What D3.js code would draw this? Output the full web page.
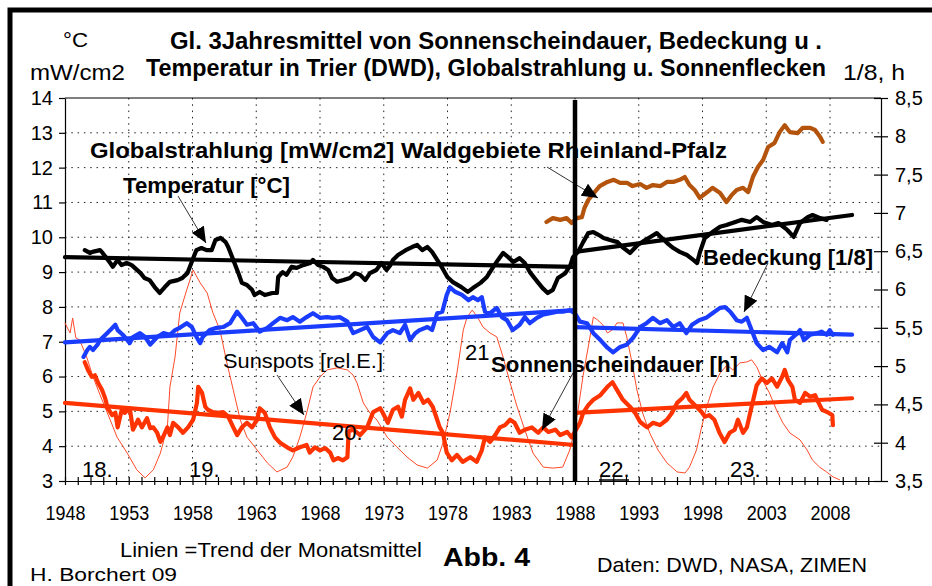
<!DOCTYPE html>
<html>
<head>
<meta charset="utf-8">
<script src="https://cdn.jsdelivr.net/npm/d3@7"></script>
<style>
  body { margin: 0; background: #fff; }
  text { font-family: "Liberation Sans", Arial, sans-serif; }
</style>
</head>
<body>
<svg id="chart" width="932" height="586"></svg>
<script>
// values: [year, value]
var leftTicks = d3.range(3, 15);
var rightTicks = [3.5, 4, 4.5, 5, 5.5, 6, 6.5, 7, 7.5, 8, 8.5];
var yearTicks = d3.range(1948, 2012);
var yearLabels = d3.range(1948, 2009, 5);

// Temperatur [°C], left axis
var temperatur = [[1949.55,9.63],[1949.95,9.55],[1950.15,9.58],[1950.75,9.63],[1950.95,9.55],[1951.55,9.26],[1951.75,9.15],[1952.13,9.35],[1952.43,9.20],[1952.83,9.26],[1953.23,9.20],[1953.93,8.97],[1954.23,8.83],[1954.63,8.77],[1955.03,8.57],[1955.43,8.40],[1955.83,8.57],[1956.23,8.72],[1956.83,8.77],[1957.2,8.83],[1957.6,8.97],[1958.0,9.35],[1958.3,9.63],[1958.7,9.69],[1959.1,9.63],[1959.5,9.63],[1959.8,9.92],[1960.2,9.98],[1960.6,9.86],[1960.8,9.72],[1961.2,9.35],[1961.6,8.97],[1961.87,8.69],[1962.27,8.63],[1962.67,8.49],[1962.87,8.34],[1963.27,8.43],[1963.67,8.34],[1964.27,8.40],[1964.62,8.40],[1964.72,8.86],[1965.07,9.00],[1965.37,8.92],[1965.77,9.15],[1966.17,9.12],[1966.67,9.20],[1967.25,9.26],[1967.45,9.35],[1967.85,9.20],[1968.25,9.15],[1968.65,9.06],[1968.95,8.83],[1969.35,8.72],[1969.85,8.77],[1970.35,8.83],[1970.75,8.97],[1971.15,8.92],[1971.55,8.77],[1971.92,8.97],[1972.42,9.06],[1972.82,9.26],[1973.22,9.06],[1973.52,9.20],[1973.72,9.35],[1974.12,9.49],[1974.72,9.63],[1975.22,9.72],[1975.62,9.78],[1976.02,9.63],[1976.42,9.72],[1976.79,9.58],[1977.19,9.35],[1977.59,9.12],[1977.99,8.86],[1978.39,8.72],[1979.09,8.57],[1979.59,8.43],[1979.99,8.54],[1980.59,8.69],[1981.09,8.86],[1981.59,9.15],[1981.96,9.35],[1982.36,9.55],[1982.76,9.43],[1983.16,9.29],[1983.66,9.40],[1984.06,9.26],[1984.46,9.00],[1985.06,8.72],[1985.46,8.54],[1985.86,8.40],[1986.26,8.49],[1986.66,8.83],[1987.24,8.97],[1987.64,9.20],[1987.84,9.43],[1988.24,9.58],[1988.64,9.86],[1989.04,10.12],[1989.44,10.15],[1989.84,10.07],[1990.24,9.98],[1990.74,9.92],[1991.34,9.86],[1991.71,9.72],[1992.31,9.55],[1992.91,9.78],[1993.51,9.92],[1993.91,10.01],[1994.41,10.12],[1994.81,9.98],[1995.21,9.84],[1995.71,9.69],[1996.21,9.58],[1996.78,9.49],[1997.28,9.35],[1997.58,9.26],[1997.78,9.55],[1998.18,9.98],[1998.78,10.15],[1999.38,10.30],[1999.88,10.35],[2000.58,10.44],[2001.08,10.50],[2001.75,10.44],[2002.25,10.58],[2002.75,10.44],[2003.45,10.35],[2003.95,10.41],[2004.65,10.21],[2005.15,10.01],[2005.65,10.41],[2006.25,10.58],[2006.63,10.64],[2007.23,10.55],[2007.73,10.50]];

// Globalstrahlung [mW/cm2], left axis
var globalstrahlung = [[1985.76,10.44],[1986.26,10.55],[1986.84,10.50],[1987.34,10.55],[1987.74,10.41],[1988.14,10.55],[1988.54,10.58],[1988.74,10.84],[1989.04,11.07],[1989.54,11.30],[1989.94,11.47],[1990.54,11.59],[1991.04,11.65],[1991.54,11.56],[1992.11,11.56],[1992.51,11.47],[1993.11,11.53],[1993.61,11.42],[1994.11,11.50],[1994.71,11.47],[1995.21,11.59],[1995.71,11.59],[1996.21,11.65],[1996.61,11.73],[1996.98,11.50],[1997.38,11.36],[1997.78,11.13],[1998.38,11.30],[1998.78,11.42],[1999.38,11.27],[1999.88,11.01],[2000.28,11.21],[2000.68,11.36],[2001.18,11.42],[2001.58,11.30],[2001.95,11.73],[2002.35,12.02],[2002.75,12.22],[2003.15,12.59],[2003.65,12.71],[2004.05,13.02],[2004.45,13.22],[2004.85,13.02],[2005.45,12.99],[2005.85,13.14],[2006.45,13.14],[2006.83,13.08],[2007.23,12.88],[2007.43,12.74]];

// Bedeckung [1/8], right axis
var bedeckung = [[1949.45,5.12],[1949.75,5.21],[1949.95,5.25],[1950.2,5.21],[1950.55,5.28],[1950.75,5.34],[1951.3,5.43],[1951.55,5.47],[1951.95,5.54],[1952.13,5.47],[1952.53,5.41],[1953.08,5.30],[1953.33,5.38],[1953.88,5.43],[1954.28,5.38],[1954.68,5.28],[1955.23,5.38],[1955.73,5.43],[1956.23,5.41],[1956.63,5.47],[1957.0,5.50],[1957.55,5.56],[1957.95,5.51],[1958.35,5.37],[1958.6,5.30],[1958.8,5.38],[1959.35,5.47],[1959.9,5.50],[1960.4,5.51],[1960.95,5.56],[1961.5,5.71],[1961.87,5.63],[1962.27,5.54],[1962.77,5.56],[1963.27,5.45],[1963.87,5.50],[1964.32,5.56],[1964.87,5.63],[1965.42,5.60],[1965.87,5.64],[1966.42,5.58],[1966.95,5.64],[1967.45,5.69],[1968.0,5.63],[1968.55,5.64],[1969.0,5.63],[1969.55,5.64],[1970.15,5.58],[1970.6,5.43],[1971.15,5.47],[1971.7,5.51],[1972.17,5.38],[1972.72,5.31],[1973.27,5.43],[1973.72,5.47],[1974.27,5.43],[1974.67,5.54],[1975.07,5.34],[1975.47,5.43],[1975.82,5.47],[1976.42,5.51],[1976.79,5.47],[1977.19,5.69],[1977.59,5.71],[1977.94,5.93],[1978.19,6.03],[1978.59,5.97],[1979.14,5.93],[1979.64,5.86],[1979.99,5.90],[1980.39,5.86],[1980.69,5.90],[1980.94,5.71],[1981.34,5.69],[1981.86,5.76],[1982.26,5.64],[1982.66,5.60],[1983.11,5.47],[1983.66,5.54],[1984.06,5.64],[1984.46,5.56],[1985.01,5.63],[1985.46,5.67],[1986.06,5.69],[1986.61,5.71],[1987.04,5.71],[1987.59,5.73],[1987.99,5.69],[1988.39,5.58],[1988.94,5.56],[1989.44,5.43],[1989.99,5.34],[1990.54,5.24],[1990.99,5.18],[1991.54,5.25],[1992.06,5.28],[1992.56,5.37],[1993.11,5.51],[1993.61,5.56],[1994.11,5.63],[1994.66,5.56],[1995.21,5.60],[1995.71,5.51],[1996.21,5.56],[1996.73,5.43],[1997.18,5.54],[1997.73,5.60],[1998.28,5.63],[1998.78,5.69],[1999.38,5.76],[1999.78,5.77],[2000.18,5.71],[2000.68,5.60],[2001.08,5.58],[2001.48,5.63],[2001.85,5.47],[2002.25,5.30],[2002.75,5.21],[2003.25,5.25],[2003.85,5.18],[2004.25,5.30],[2004.65,5.18],[2004.85,5.34],[2005.45,5.43],[2005.65,5.47],[2005.95,5.34],[2006.45,5.41],[2006.98,5.43],[2007.33,5.45],[2007.73,5.41],[2007.98,5.47],[2008.23,5.41]];

// Sonnenscheindauer [h], right axis
var sonnenschein = [[1949.55,5.05],[1949.8,4.95],[1950.1,4.86],[1950.35,4.88],[1950.6,4.78],[1950.9,4.69],[1951.15,4.58],[1951.35,4.45],[1951.7,4.36],[1951.95,4.39],[1952.13,4.20],[1952.48,4.45],[1952.68,4.39],[1953.08,4.45],[1953.33,4.17],[1953.73,4.30],[1954.03,4.20],[1954.43,4.32],[1954.68,4.19],[1954.93,4.20],[1955.23,4.13],[1955.48,4.01],[1955.68,4.07],[1956.03,4.20],[1956.23,4.10],[1956.48,4.26],[1956.88,4.20],[1957.25,4.13],[1957.65,4.20],[1958.05,4.30],[1958.35,4.52],[1958.45,4.73],[1958.75,4.65],[1959.0,4.47],[1959.2,4.43],[1959.6,4.40],[1960.0,4.39],[1960.4,4.40],[1960.8,4.34],[1961.2,4.20],[1961.5,4.10],[1961.87,4.20],[1962.27,4.26],[1962.67,4.20],[1963.07,4.30],[1963.27,4.45],[1963.67,4.39],[1964.07,4.20],[1964.47,4.07],[1964.87,4.00],[1965.42,3.94],[1965.87,3.90],[1966.42,3.94],[1966.95,3.97],[1967.2,3.87],[1967.6,3.94],[1968.0,3.90],[1968.4,3.93],[1968.8,3.87],[1969.05,3.77],[1969.4,3.80],[1969.8,3.77],[1970.15,3.81],[1970.25,4.15],[1970.6,4.17],[1971.15,4.10],[1971.7,4.20],[1972.17,4.40],[1972.72,4.45],[1972.92,4.39],[1973.32,4.26],[1973.72,4.43],[1974.12,4.47],[1974.42,4.34],[1974.67,4.56],[1975.07,4.71],[1975.32,4.56],[1975.72,4.65],[1976.12,4.52],[1976.47,4.56],[1976.84,4.47],[1977.19,4.30],[1977.39,4.20],[1977.64,4.13],[1977.94,3.87],[1978.34,3.77],[1978.74,3.84],[1979.19,3.75],[1979.79,3.81],[1980.29,3.75],[1980.69,3.90],[1980.94,4.07],[1981.34,4.01],[1981.74,4.10],[1982.11,4.20],[1982.51,4.23],[1982.91,4.30],[1983.26,4.26],[1983.66,4.13],[1984.06,4.17],[1984.61,4.20],[1985.11,4.13],[1985.51,4.20],[1985.91,4.14],[1986.46,4.17],[1986.84,4.10],[1987.39,4.14],[1987.74,4.07],[1988.39,4.26],[1988.64,4.39],[1989.04,4.49],[1989.44,4.56],[1989.99,4.62],[1990.54,4.73],[1990.94,4.79],[1991.29,4.69],[1991.76,4.56],[1992.31,4.47],[1992.71,4.39],[1993.11,4.27],[1993.66,4.20],[1994.11,4.26],[1994.66,4.23],[1995.21,4.30],[1995.61,4.39],[1996.01,4.52],[1996.41,4.58],[1996.73,4.65],[1996.98,4.56],[1997.53,4.47],[1997.93,4.40],[1998.18,4.34],[1998.53,4.36],[1998.93,4.30],[1999.33,4.13],[1999.73,4.01],[2000.13,4.13],[2000.53,4.17],[2000.78,4.30],[2001.18,4.13],[2001.48,4.20],[2001.85,4.47],[2002.25,4.75],[2002.65,4.84],[2003.05,4.78],[2003.45,4.84],[2003.85,4.73],[2004.25,4.86],[2004.45,4.95],[2004.7,4.82],[2005.05,4.73],[2005.25,4.56],[2005.65,4.52],[2006.05,4.65],[2006.45,4.60],[2006.83,4.62],[2007.08,4.53],[2007.38,4.43],[2007.78,4.40],[2008.18,4.36],[2008.23,4.23]];

// Sunspots [rel.E.], drawn against the left scale
var sunspots = [[1948.0,7.54],[1948.16,7.42],[1948.4,7.25],[1948.6,7.68],[1948.85,7.11],[1949.15,7.05],[1949.7,6.56],[1950.2,5.99],[1950.75,5.47],[1951.55,4.75],[1952.08,4.26],[1952.88,3.80],[1953.63,3.32],[1954.28,3.09],[1954.93,3.32],[1955.48,3.80],[1956.03,4.55],[1956.23,5.70],[1956.63,6.56],[1957.0,7.83],[1957.55,8.49],[1958.05,9.06],[1958.6,8.69],[1959.15,8.40],[1959.6,7.83],[1960.15,7.34],[1960.7,6.39],[1961.2,5.61],[1961.75,4.75],[1962.27,4.26],[1963.07,3.89],[1963.87,3.52],[1964.62,3.26],[1965.42,3.40],[1965.87,3.69],[1966.42,4.26],[1966.95,4.95],[1967.45,5.70],[1968.0,5.99],[1968.55,6.19],[1969.35,6.25],[1970.15,6.19],[1970.6,6.04],[1970.9,5.82],[1971.4,5.24],[1971.92,4.95],[1972.47,4.75],[1973.27,4.26],[1974.02,3.98],[1974.82,3.69],[1975.62,3.46],[1976.42,3.37],[1977.19,3.60],[1977.64,4.09],[1978.19,4.95],[1978.74,6.10],[1979.24,7.34],[1979.54,7.71],[1979.94,7.91],[1980.34,7.71],[1980.79,7.42],[1981.34,7.25],[1981.86,7.14],[1982.36,6.56],[1982.91,5.82],[1983.46,5.13],[1984.06,4.47],[1984.71,3.80],[1985.51,3.40],[1986.26,3.37],[1987.04,3.40],[1987.59,3.89],[1987.84,4.26],[1988.24,5.04],[1988.64,6.04],[1989.04,6.85],[1989.44,7.71],[1989.79,7.62],[1990.19,7.48],[1990.54,7.25],[1990.94,7.34],[1991.29,7.54],[1991.76,7.54],[1992.06,7.14],[1992.46,6.42],[1992.86,5.61],[1993.31,4.95],[1993.86,4.38],[1994.51,3.89],[1995.21,3.52],[1996.01,3.26],[1996.63,3.23],[1996.98,3.40],[1997.53,3.89],[1997.93,4.55],[1998.33,5.13],[1998.83,5.70],[1999.38,6.10],[1999.93,6.33],[2000.38,6.19],[2000.93,6.39],[2001.48,6.42],[2001.85,6.48],[2002.25,6.28],[2002.7,5.90],[2003.25,5.53],[2003.8,5.04],[2004.3,4.67],[2004.85,4.38],[2005.65,4.18],[2006.2,3.89],[2006.63,3.60],[2007.18,3.40],[2007.73,3.26],[2008.23,3.12],[2008.78,3.03]];

// trend lines of the monthly means, split at 1988
var trendTemperatur = [[[1948,9.43],[1988,9.15]], [[1988,9.58],[2009.73,10.64]]];
var trendBedeckung = [[[1948,5.31],[1988,5.73]], [[1988,5.51],[2009.73,5.41]]];
var trendSonnenschein = [[[1948,4.52],[1988,3.97]], [[1988,4.39],[2009.73,4.58]]];

// sunspot cycle numbers [label, year, left-scale value]
var cycles = [["18.",1949.33,3.12],["19.",1957.73,3.12],["20.",1968.94,4.18],["21",1979.37,6.48],["22.",1989.88,3.12],["23.",2000.16,3.12]];

var svg = d3.select('#chart');
var x = d3.scaleLinear().domain([1948, 2012]).range([65, 881]);
var yL = d3.scaleLinear().domain([3, 14]).range([481, 98]);
var yR = d3.scaleLinear().domain([3.5, 8.5]).range([481, 98]);

var blue = '#1a3cff', red = '#ff3300', brown = '#b4530c';

svg.append('rect').attr('width', 932).attr('height', 586).attr('fill', '#fff');
// outer frame, runs off the right and bottom edge
svg.append('rect').attr('x', 10).attr('y', 10).attr('width', 940).attr('height', 600)
  .attr('fill', 'none').attr('stroke', '#000').attr('stroke-width', 5);

// titles
svg.append('text').attr('x', 170).attr('y', 49).attr('textLength', 652).attr('lengthAdjust', 'spacingAndGlyphs')
  .style('font-size', '24px').style('font-weight', 'bold').text('Gl. 3Jahresmittel von Sonnenscheindauer, Bedeckung u .');
svg.append('text').attr('x', 146).attr('y', 76).attr('textLength', 680).attr('lengthAdjust', 'spacingAndGlyphs')
  .style('font-size', '24px').style('font-weight', 'bold').text('Temperatur in Trier (DWD), Globalstrahlung u. Sonnenflecken');
svg.append('text').attr('x', 63).attr('y', 47).attr('textLength', 25).attr('lengthAdjust', 'spacingAndGlyphs')
  .style('font-size', '21px').text('°C');
svg.append('text').attr('x', 30).attr('y', 80).attr('textLength', 95).attr('lengthAdjust', 'spacingAndGlyphs')
  .style('font-size', '22px').text('mW/cm2');
svg.append('text').attr('x', 843).attr('y', 80).attr('textLength', 62).attr('lengthAdjust', 'spacingAndGlyphs')
  .style('font-size', '22px').text('1/8, h');

// dotted grid
var grid = svg.append('g').attr('stroke', '#222').attr('stroke-width', 1).attr('stroke-dasharray', '1.5,4.8');
grid.selectAll('.h').data(d3.range(4, 14)).enter().append('line')
  .attr('x1', x(1948)).attr('x2', x(2012)).attr('y1', d => yL(d)).attr('y2', d => yL(d));
grid.selectAll('.v').data(yearLabels.slice(1)).enter().append('line')
  .attr('x1', d => x(d)).attr('x2', d => x(d)).attr('y1', yL(14)).attr('y2', yL(3));
svg.append('line').attr('x1', x(1948)).attr('x2', x(2012)).attr('y1', yL(14)).attr('y2', yL(14))
  .attr('stroke', '#000').attr('stroke-width', 1);

// axes
var axL = svg.append('g').attr('transform', 'translate(65,0)')
  .call(d3.axisLeft(yL).tickValues(leftTicks).tickSize(6).tickPadding(6).tickSizeOuter(0));
var axR = svg.append('g').attr('transform', 'translate(881,0)')
  .call(d3.axisRight(yR).tickValues(rightTicks).tickSize(7).tickPadding(7).tickSizeOuter(0)
    .tickFormat(d => String(d).replace('.', ',')));
axR.selectAll('.tick line').attr('x1', -7);
var axB = svg.append('g').attr('transform', 'translate(0,481)')
  .call(d3.axisBottom(x).tickValues(yearTicks).tickSize(4).tickSizeOuter(0)
    .tickFormat(d => (d - 1948) % 5 === 0 ? d : ''));
axB.selectAll('.tick line').attr('y1', -4);
[axL, axR, axB].forEach(function(a) {
  a.selectAll('path, line').attr('stroke', '#000').attr('stroke-width', 1.2);
  a.selectAll('text').attr('fill', '#000').style('font-size', '20px')
    .style('font-family', '"Liberation Sans", Arial, sans-serif');
});
axB.selectAll('.tick text').filter(d => (d - 1948) % 5 === 0)
  .attr('y', 39).attr('dy', 0).attr('textLength', 40).attr('lengthAdjust', 'spacingAndGlyphs');

// data lines
var lineL = d3.line().x(d => x(d[0])).y(d => yL(d[1]));
var lineR = d3.line().x(d => x(d[0])).y(d => yR(d[1]));

svg.append('path').attr('d', lineL(sunspots)).attr('fill', 'none').attr('stroke', '#ff4a2a').attr('stroke-width', 1);

function thick(d, col) {
  svg.append('path').attr('d', d).attr('fill', 'none').attr('stroke', col)
    .attr('stroke-width', 4.2).attr('stroke-linejoin', 'round').attr('stroke-linecap', 'round');
}
trendSonnenschein.forEach(s => thick(lineR(s), red));
thick(lineR(sonnenschein), red);
trendBedeckung.forEach(s => thick(lineR(s), blue));
thick(lineR(bedeckung), blue);
trendTemperatur.forEach(s => thick(lineL(s), '#000'));
thick(lineL(temperatur), '#000');
thick(lineL(globalstrahlung), brown);

// 1988 separator
svg.append('line').attr('x1', x(1988)).attr('x2', x(1988)).attr('y1', yL(14) + 2).attr('y2', yL(3))
  .attr('stroke', '#000').attr('stroke-width', 4.5);

// cycle numbers
svg.selectAll('.cyc').data(cycles).enter().append('text')
  .attr('x', d => x(d[1])).attr('y', d => yL(d[2]))
  .style('font-size', '22px').text(d => d[0]);
svg.append('line').attr('x1', x(1989.88)).attr('x2', x(1989.88) + 30).attr('y1', 480).attr('y2', 480)
  .attr('stroke', '#000').attr('stroke-width', 1.5);

// labels with arrows
svg.append('defs').append('marker').attr('id', 'head').attr('markerUnits', 'userSpaceOnUse')
  .attr('viewBox', '0 -7 16 14').attr('refX', 16).attr('refY', 0)
  .attr('markerWidth', 16).attr('markerHeight', 14).attr('orient', 'auto')
  .append('path').attr('d', 'M0,-7L16,0L0,7Z').attr('fill', '#000');

var labels = [
  {t: 'Globalstrahlung [mW/cm2] Waldgebiete Rheinland-Pfalz', x: 90, y: 158, w: 637, b: true},
  {t: 'Temperatur [°C]', x: 123, y: 193, w: 167, b: true},
  {t: 'Bedeckung [1/8]', x: 703, y: 265, w: 170, b: true},
  {t: 'Sonnenscheindauer [h]', x: 491, y: 372, w: 247, b: true},
  {t: 'Sunspots [rel.E.]', x: 223, y: 368, w: 160, b: false}
];
svg.selectAll('.lab').data(labels).enter().append('text')
  .attr('x', d => d.x).attr('y', d => d.y).attr('textLength', d => d.w).attr('lengthAdjust', 'spacingAndGlyphs')
  .style('font-size', d => d.b ? '22px' : '20px').style('font-weight', d => d.b ? 'bold' : 'normal')
  .text(d => d.t);

var arrows = [[178,196,206,243],[547,167,598,198],[768,263,744,312],[277,375,304,415],[573,373,542,430]];
svg.selectAll('.arr').data(arrows).enter().append('line')
  .attr('x1', d => d[0]).attr('y1', d => d[1]).attr('x2', d => d[2]).attr('y2', d => d[3])
  .attr('stroke', '#000').attr('stroke-width', 0.8).attr('marker-end', 'url(#head)');

// footer
svg.append('text').attr('x', 120).attr('y', 557).attr('textLength', 302).attr('lengthAdjust', 'spacingAndGlyphs')
  .style('font-size', '21px').text('Linien =Trend der Monatsmittel');
svg.append('text').attr('x', 443).attr('y', 566).attr('textLength', 87).attr('lengthAdjust', 'spacingAndGlyphs')
  .style('font-size', '25px').style('font-weight', 'bold').text('Abb. 4');
svg.append('text').attr('x', 597).attr('y', 572).attr('textLength', 270).attr('lengthAdjust', 'spacingAndGlyphs')
  .style('font-size', '21px').text('Daten: DWD, NASA, ZIMEN');
svg.append('text').attr('x', 30).attr('y', 581).attr('textLength', 147).attr('lengthAdjust', 'spacingAndGlyphs')
  .style('font-size', '19px').text('H. Borchert 09');
</script>
</body>
</html>
